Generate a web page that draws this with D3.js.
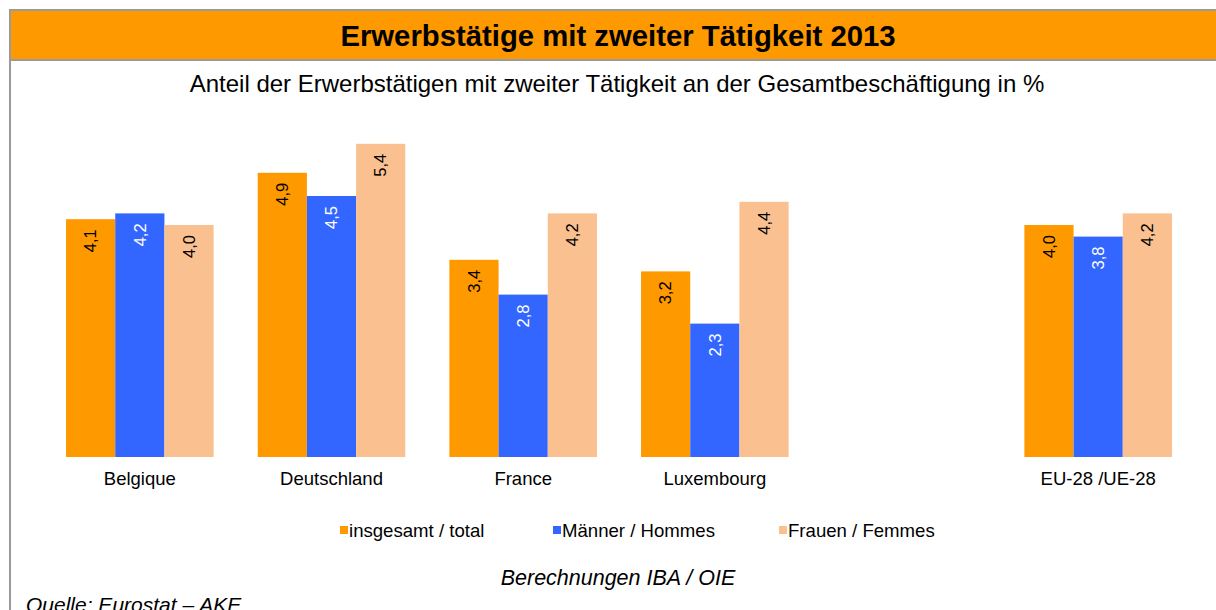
<!DOCTYPE html>
<html>

<head>
    <meta charset="utf-8">
    <style>
        body {
            margin: 0;
            background: white;
        }

        svg {
            display: block;
            font-family: 'Liberation Sans', Arial, sans-serif;
        }
    </style>
</head>

<body>
    <svg width="1216" height="610"></svg>
</body>

<script src="https://d3js.org/d3.v7.min.js"></script>

<script>
    // chart values
    let countries = ["Belgique", "Deutschland", "France", "Luxembourg", "EU-28 /UE-28"]
    let seriesNames = ["insgesamt / total", "Männer / Hommes", "Frauen / Femmes"]
    let total = [4.1, 4.9, 3.4, 3.2, 4.0]
    let men = [4.2, 4.5, 2.8, 2.3, 3.8]
    let women = [4.0, 5.4, 4.2, 4.4, 4.2]
    let colors = ["#FF9900", "#3366FF", "#FAC090"]
    let labelColors = ["#000", "#fff", "#000"]

    let width = 1216
    let height = 610

    let svg = d3.select("svg")

    // header band
    svg.append("rect")
        .attr("x", 10).attr("y", 10)
        .attr("width", width - 10).attr("height", 50)
        .style("fill", "#FF9900")
    svg.append("line")
        .attr("x1", 9).attr("x2", width).attr("y1", 10).attr("y2", 10)
        .style("stroke", "#9a9a9a").style("stroke-width", 2)
    svg.append("line")
        .attr("x1", 9).attr("x2", width).attr("y1", 60).attr("y2", 60)
        .style("stroke", "#9a9a9a").style("stroke-width", 2)
    svg.append("line")
        .attr("x1", 10).attr("x2", 10).attr("y1", 9).attr("y2", height)
        .style("stroke", "#9a9a9a").style("stroke-width", 2)

    svg.append("text")
        .attr("x", 618).attr("y", 46)
        .attr("text-anchor", "middle")
        .style("font-size", "29.3px").style("font-weight", "bold")
        .text("Erwerbstätige mit zweiter Tätigkeit 2013")

    svg.append("text")
        .attr("x", 617).attr("y", 92)
        .attr("text-anchor", "middle")
        .style("font-size", "24px")
        .text("Anteil der Erwerbstätigen mit zweiter Tätigkeit an der Gesamtbeschäftigung in %")

    // scales -- one empty slot between Luxembourg and EU
    let slots = countries.slice(0, 4).concat(["_gap"], countries.slice(4))

    let x = d3.scaleBand()
        .domain(slots)
        .range([44, 1194])
        .paddingInner(0.23)
        .paddingOuter(0.115)

    let xs = d3.scaleBand()
        .domain(seriesNames)
        .range([0, x.bandwidth()])

    let y = d3.scaleLinear()
        .domain([0, 6])
        .range([457, 109])

    let rows = countries.map((c, i) => ({
        country: c,
        values: [total[i], men[i], women[i]]
    }))

    let fmt = v => d3.format(".1f")(v).replace(".", ",")

    let groups = svg.selectAll(".group")
        .data(rows)
        .join("g")
        .attr("class", "group")
        .attr("transform", d => "translate(" + x(d.country) + ",0)")

    groups.selectAll("rect")
        .data(d => d.values.map((v, k) => ({ v: v, k: k })))
        .join("rect")
        .attr("x", d => xs(seriesNames[d.k]))
        .attr("width", xs.bandwidth())
        .attr("y", d => y(d.v))
        .attr("height", d => y(0) - y(d.v))
        .style("fill", d => colors[d.k])

    groups.selectAll(".val")
        .data(d => d.values.map((v, k) => ({ v: v, k: k })))
        .join("text")
        .attr("class", "val")
        .attr("transform", d => "translate(" + (xs(seriesNames[d.k]) + xs.bandwidth() / 2) + "," + (y(d.v) + 10) + ") rotate(-90)")
        .attr("text-anchor", "end")
        .attr("dy", "0.35em")
        .style("font-size", "16.5px")
        .style("fill", d => labelColors[d.k])
        .text(d => fmt(d.v))

    // category labels
    svg.selectAll(".cat")
        .data(countries)
        .join("text")
        .attr("class", "cat")
        .attr("x", d => x(d) + x.bandwidth() / 2)
        .attr("y", 485)
        .attr("text-anchor", "middle")
        .style("font-size", "18.5px")
        .text(d => d)

    // legend
    let legendX = [340, 553, 779]
    let legend = svg.selectAll(".legend")
        .data(seriesNames)
        .join("g")
        .attr("class", "legend")
        .attr("transform", (d, i) => "translate(" + legendX[i] + ",0)")

    legend.append("rect")
        .attr("x", 0).attr("y", 526)
        .attr("width", 8).attr("height", 8)
        .style("fill", (d, i) => colors[i])

    legend.append("text")
        .attr("x", 9).attr("y", 537)
        .style("font-size", "18.6px")
        .text(d => d)

    svg.append("text")
        .attr("x", 618).attr("y", 585)
        .attr("text-anchor", "middle")
        .style("font-size", "21.5px").style("font-style", "italic")
        .text("Berechnungen IBA / OIE")

    svg.append("text")
        .attr("x", 26).attr("y", 612)
        .style("font-size", "21px").style("font-style", "italic")
        .text("Quelle: Eurostat – AKE")
</script>

</html>
